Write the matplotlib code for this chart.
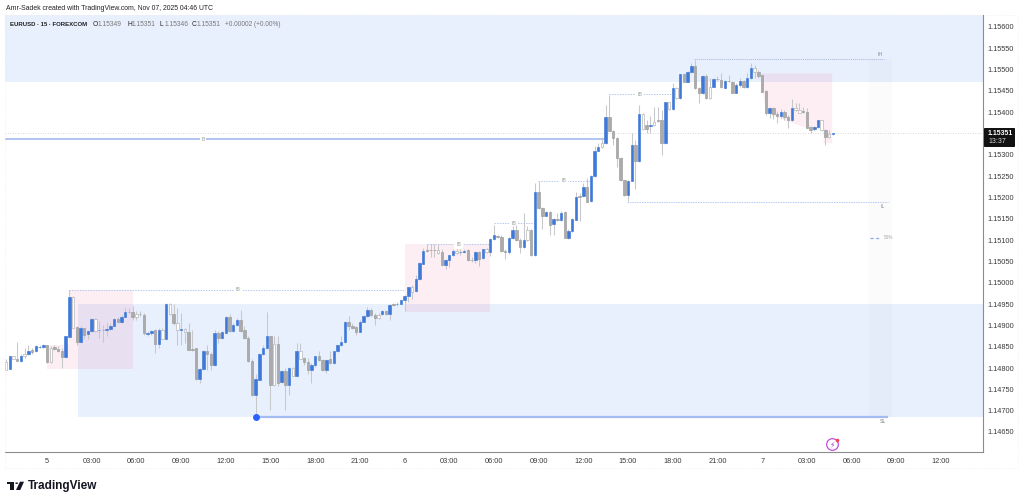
import numpy as np
import matplotlib
matplotlib.use("Agg")
import matplotlib.pyplot as plt
from matplotlib.patches import Rectangle, Polygon, Circle, FancyBboxPatch

W, H = 1024, 503

# EURUSD 15m bars, prices in 1e-5 units, bar 0 = Nov 5 00:00
first_bar = -11
candle_kind = (
    "wbwgbwbgbbb"
    "gwgggbbwgb" "gbbwbgbbbg" "bbggwggbbg" "bwbwgwbwgg" "gbbggbgbbg"
    "bbggggbbbb" "gwgbgbwbwg" "gbbggbgbbb" "bgggbbbggw" "bgbgbbbbwb"
    "bbgggwgbbb" "wbbggbgbwb" "bgggbbggbw" "gbggbgbgbg" "bbbgbgbbbw"
    "bgggggbbgb" "wgbwggbwbw" "bgbbggbgwb" "ggbggbbgbb" "wgggbggbgg"
    "bwwgggbbwg" "wb"
)
body_top = [
    114814,114828,114828,114822,114829,114834,114841,114842,114851,114850,114853,
    114853,114847,114849,114845,114840,114874,114966,114966,114896,114893,
    114893,114887,114914,114915,114890,114890,114891,114899,114916,114916,
    114920,114932,114932,114931,114927,114927,114925,114882,114887,114888,
    114890,114890,114950,114950,114927,114906,114892,114891,114885,114845,
    114846,114798,114840,114841,114834,114882,114882,114884,114920,114920,
    114902,114912,114912,114888,114871,114817,114775,114834,114846,114876,
    114876,114857,114857,114792,114793,114800,114800,114839,114839,114823,
    114814,114806,114827,114827,114819,114819,114820,114839,114853,114860,
    114909,114909,114899,114896,114909,114921,114935,114936,114924,114925,
    114934,114934,114948,114949,114950,114959,114968,114990,114990,115008,
    115046,115075,115076,115077,115077,115077,115072,115054,115064,115075,
    115075,115072,115075,115076,115054,115071,115071,115078,115078,115103,
    115111,115109,115107,115074,115105,115123,115123,115100,115100,115124,
    115124,115212,115212,115175,115165,115165,115150,115150,115164,115165,
    115122,115150,115202,115203,115225,115225,115250,115310,115318,115328,
    115388,115388,115356,115339,115293,115240,115239,115324,115324,115395,
    115395,115369,115370,115378,115381,115381,115423,115423,115456,115456,
    115489,115489,115495,115509,115509,115457,115486,115486,115460,115477,
    115478,115475,115474,115474,115471,115464,115473,115473,115480,115503,
    115503,115495,115487,115449,115409,115409,115396,115400,115400,115388,
    115411,115411,115406,115402,115401,115365,115365,115381,115381,115359,
    115349,115351,
]
body_bottom = [
    114796,114798,114821,114816,114816,114828,114832,114837,114839,114849,114849,
    114814,114814,114844,114840,114825,114825,114873,114895,114860,114860,
    114878,114879,114886,114886,114888,114889,114889,114891,114898,114907,
    114907,114920,114931,114919,114920,114926,114881,114880,114882,114857,
    114857,114868,114868,114926,114906,114888,114890,114885,114843,114843,
    114774,114774,114798,114834,114806,114806,114870,114870,114882,114886,
    114886,114902,114886,114870,114816,114736,114736,114773,114832,114846,
    114759,114759,114765,114768,114759,114759,114782,114782,114822,114814,
    114795,114795,114806,114818,114796,114796,114812,114812,114839,114853,
    114860,114898,114895,114885,114885,114909,114921,114924,114917,114917,
    114926,114927,114927,114948,114949,114951,114959,114968,114979,114980,
    115008,115045,115075,115076,115076,115070,115041,115041,115054,115064,
    115069,115071,115072,115053,115053,115053,115056,115058,115072,115073,
    115103,115108,115074,115072,115072,115104,115100,115083,115083,115100,
    115064,115064,115175,115157,115157,115136,115137,115148,115146,115105,
    115105,115122,115148,115201,115203,115190,115191,115250,115309,115318,
    115328,115356,115339,115293,115240,115205,115205,115239,115285,115285,
    115360,115360,115368,115370,115380,115327,115327,115407,115407,115433,
    115433,115471,115471,115495,115456,115444,115444,115433,115433,115460,
    115477,115458,115457,115473,115446,115445,115464,115459,115459,115480,
    115495,115486,115448,115399,115399,115396,115390,115390,115388,115381,
    115381,115406,115399,115400,115364,115359,115360,115365,115359,115343,
    115343,115349,
]
wick_high = [
    114820,114829,114829,114860,114834,114847,114855,114847,114855,114853,114857,
    114853,114851,114853,114851,114847,114876,114984,114968,114898,114898,
    114895,114890,114917,114917,114910,114902,114906,114906,114917,114920,
    114925,114941,114941,114945,114933,114933,114929,114886,114890,114892,
    114894,114894,114952,114952,114949,114941,114929,114894,114906,114890,
    114847,114800,114842,114855,114837,114890,114886,114886,114923,114927,
    114906,114917,114935,114898,114874,114820,114785,114835,114855,114931,
    114876,114874,114874,114796,114800,114803,114803,114859,114859,114826,
    114824,114812,114829,114839,114821,114821,114839,114841,114855,114876,
    114910,114921,114906,114899,114912,114925,114943,114941,114929,114929,
    114937,114937,114949,114952,114954,114962,114972,114991,114995,115019,
    115048,115082,115090,115090,115090,115090,115078,115056,115066,115078,
    115079,115078,115080,115078,115061,115074,115075,115079,115082,115105,
    115136,115113,115111,115078,115107,115132,115136,115105,115164,115132,
    115125,115234,115238,115178,115168,115168,115152,115164,115168,115168,
    115125,115152,115212,115210,115234,115246,115253,115320,115328,115342,
    115417,115441,115359,115342,115295,115242,115241,115351,115335,115417,
    115398,115382,115390,115413,115413,115406,115425,115425,115468,115460,
    115490,115491,115497,115516,115523,115460,115488,115490,115480,115480,
    115484,115491,115476,115487,115473,115468,115480,115476,115491,115515,
    115511,115499,115490,115451,115412,115412,115402,115407,115406,115394,
    115431,115421,115421,115413,115410,115368,115368,115382,115382,115361,
    115359,115351,
]
wick_low = [
    114795,114798,114820,114816,114814,114824,114831,114834,114837,114846,114847,
    114812,114812,114842,114837,114800,114823,114873,114894,114853,114859,
    114868,114868,114885,114885,114870,114860,114874,114890,114898,114906,
    114906,114919,114929,114913,114912,114921,114878,114874,114878,114835,
    114847,114867,114867,114924,114902,114853,114853,114859,114842,114839,
    114773,114764,114796,114796,114796,114804,114859,114868,114882,114884,
    114884,114899,114884,114868,114814,114734,114691,114771,114831,114845,
    114701,114757,114757,114765,114701,114736,114781,114781,114820,114808,
    114785,114765,114803,114816,114792,114789,114810,114810,114837,114851,
    114859,114890,114892,114878,114884,114907,114920,114921,114902,114915,
    114924,114925,114913,114946,114946,114949,114933,114956,114962,114979,
    115006,115043,115072,115061,115061,115068,115039,115033,115036,115062,
    115067,115066,115070,115051,115049,115047,115040,115056,115070,115062,
    115101,115105,115072,115056,115068,115103,115097,115070,115082,115099,
    115062,115062,115173,115126,115156,115113,115113,115144,115144,115104,
    115103,115120,115146,115144,115201,115189,115190,115248,115308,115316,
    115326,115355,115324,115271,115238,115203,115191,115238,115220,115283,
    115359,115351,115351,115368,115378,115300,115325,115406,115406,115431,
    115431,115470,115470,115493,115455,115421,115442,115431,115431,115459,
    115474,115456,115456,115472,115445,115444,115458,115456,115457,115478,
    115480,115480,115447,115394,115386,115384,115374,115386,115382,115363,
    115379,115402,115398,115398,115363,115351,115357,115363,115357,115324,
    115339,115346,
]

# axes ticks
time_ticks = [0, 12, 24, 36, 48, 60, 72, 84, 96, 108, 120, 132, 144, 156, 168,
              180, 192, 204, 216, 228, 240]
time_labels = ["5", "03:00", "06:00", "09:00", "12:00", "15:00", "18:00", "21:00",
               "6", "03:00", "06:00", "09:00", "12:00", "15:00", "18:00", "21:00",
               "7", "03:00", "06:00", "09:00", "12:00"]
price_ticks = list(range(114650, 115601, 50))

# zones: bar start, bar end, low price, high price
blue_zones = [(-11.3, 251.3, 115471, 115628), (8.3, 251.3, 114686, 114950)]
pink_zones = [(6.0, 23.0, 114798, 114984), (0.0, 6.0, 114798, 114855),
              (96.1, 119.0, 114932, 115090)]
pink_last_bars = [192.2, 193.0, 199.0, 204.0, 208.5, 208.5, 210.8]
pink_last_low = [115448, 115398, 115378, 115363, 115363, 115327, 115327]
pink_last_high = 115491

# levels: label, bar start, bar end, price, label bar
dashed_levels = [("IB", 6.0, 96.0, 114984, 51.3), ("IB", 102.0, 119.0, 115090, 110.5),
                 ("IB", 120.0, 130.5, 115140, 125.3), ("IB", 131.8, 146.6, 115239, 138.8),
                 ("IB", 150.9, 167.8, 115442, 159.2)]
last_close = 115351
B_level = (-11.3, 149.5, 115337, 41.9)
IH_level = (173.7, 224.7, 115524, 223.6)
IL_level = (155.7, 225.8, 115190, 224.4)
SL_level = (56.0, 225.8, 114686, 224.4)
mid_level = (221.0, 223.7, 115105, 225.8)


def fx(x):
    return x / W


def fy(y):
    return 1 - y / H


def px_text(x, y, s, **kw):
    kw.setdefault("family", ["Liberation Sans", "DejaVu Sans"])
    kw.setdefault("va", "center")
    fig.text(fx(x), fy(y), s, **kw)


fig = plt.figure(figsize=(W / 100, H / 100), dpi=100, facecolor="white")

# outer frame of the widget
fig.add_artist(Rectangle((fx(5), fy(467.5)), fx(1018 - 5), (467.5 - 15) / H,
                         transform=fig.transFigure, fc="none", ec="#eeeeee", lw=0.6, ls=":"))

ax = fig.add_axes([fx(5), fy(452), fx(978), 437 / H])
ax.set_xlim(-11.28, 251.3)
ax.set_ylim(114603 / 1e5, 115628 / 1e5)

for x0, x1, lo, hi in blue_zones:
    ax.add_patch(Rectangle((x0, lo / 1e5), x1 - x0, (hi - lo) / 1e5,
                           fc="#e8effd", ec="none", zorder=1))
for x0, x1, lo, hi in pink_zones:
    ax.add_patch(Rectangle((x0, lo / 1e5), x1 - x0, (hi - lo) / 1e5,
                           fc="#e8608a", alpha=0.1, ec="none", zorder=1.2))
ax.fill_between(pink_last_bars, np.array(pink_last_low) / 1e5, pink_last_high / 1e5,
                fc="#e8608a", alpha=0.1, ec="none", zorder=1.2)

# faint projection band on the right
ax.add_patch(Rectangle((220.6, SL_level[2] / 1e5), 6.2, (IH_level[2] - SL_level[2]) / 1e5,
                       fc="#808080", alpha=0.03, ec="none", zorder=1.3))

# levels
ax.axhline(last_close / 1e5, color="#c8cad0", lw=0.6, ls=(0, (1, 2)), zorder=1.5)
line_color = "#b4c8f2"
label_size = 3.8
for label, x0, x1, price, lx in dashed_levels:
    ax.plot([x0, x1], [price / 1e5] * 2, color=line_color, lw=0.7, ls=(0, (1.5, 1.2)), zorder=1.6)
    ax.text(lx, price / 1e5, label, fontsize=label_size, color="#9a9a9a", ha="center", va="center",
            family="Liberation Sans", bbox=dict(fc="white", ec="none", pad=1.5), zorder=1.7)

ax.plot(B_level[:2], [B_level[2] / 1e5] * 2, color="#9ab4ec", lw=1.1, zorder=1.6)
ax.text(B_level[3], B_level[2] / 1e5, "B", fontsize=label_size, color="#9a9a9a", ha="center", va="center",
        family="Liberation Sans", bbox=dict(fc="white", ec="none", pad=1), zorder=1.7)
ax.plot(IH_level[:2], [IH_level[2] / 1e5] * 2, color="#a8b8dc", lw=0.6, ls=(0, (1.5, 1)), zorder=1.6)
ax.text(IH_level[3], (IH_level[2] + 12) / 1e5, "IH", fontsize=label_size, color="#8a8a8a", ha="center", va="center",
        family="Liberation Sans")
ax.plot(IL_level[:2], [IL_level[2] / 1e5] * 2, color=line_color, lw=0.7, ls=(0, (1.5, 1)), zorder=1.6)
ax.text(IL_level[3], (IL_level[2] - 11) / 1e5, "IL", fontsize=label_size, color="#8a8a8a", ha="center", va="center",
        family="Liberation Sans")
ax.plot(SL_level[:2], [SL_level[2] / 1e5] * 2, color="#a4bcf2", lw=1.6, solid_capstyle="butt", zorder=1.6)
ax.text(SL_level[3], (SL_level[2] - 12) / 1e5, "SL", fontsize=label_size, color="#8a8a8a", ha="center", va="center",
        family="Liberation Sans")
ax.plot(mid_level[:2], [mid_level[2] / 1e5] * 2, color="#8fabe8", lw=0.9, ls=(0, (2.5, 2)), zorder=1.6)
ax.text(mid_level[3], mid_level[2] / 1e5, "50%", fontsize=3.4, color="#a8a8a8", ha="center", va="center",
        family="Liberation Sans")
ax.plot([SL_level[0]], [SL_level[2] / 1e5], "o", color="#2962ff", ms=5, mec="none", zorder=5)

# candles
bars = first_bar + np.arange(len(body_top))
top = np.array(body_top) / 1e5
bot = np.array(body_bottom) / 1e5
kinds = np.array(list(candle_kind))
ax.vlines(bars, np.array(wick_low) / 1e5, np.array(wick_high) / 1e5,
          color="#c6c8cc", lw=0.75, zorder=2)
styles = {"b": ("#3e78d8", "#3e78d8"), "g": ("#ababab", "#9a9a9a"), "w": ("#ffffff", "#b0b0b0")}
for kind, (face, edge) in styles.items():
    m = kinds == kind
    ax.bar(bars[m], top[m] - bot[m], bottom=bot[m], width=0.66, color=face,
           edgecolor=edge, linewidth=0.45, zorder=3)

ax.set_xticks(time_ticks, time_labels)
ax.set_yticks([p / 1e5 for p in price_ticks], [f"{p / 1e5:.5f}" for p in price_ticks])
ax.yaxis.tick_right()
ax.tick_params(axis="both", length=0, labelsize=5.3, labelcolor="#3a3a3a")
ax.tick_params(axis="y", pad=3.4)
ax.tick_params(axis="x", pad=4.2)
for lab in ax.get_xticklabels() + ax.get_yticklabels():
    lab.set_family("Liberation Sans")
for s in ("top", "left"):
    ax.spines[s].set_visible(False)
for s in ("right", "bottom"):
    ax.spines[s].set_color("#8c8c8c")
    ax.spines[s].set_linewidth(0.8)
ax.patch.set_alpha(0)

# header
px_text(6, 8.3, "Amr-Sadek created with TradingView.com, Nov 07, 2025 04:46 UTC",
        fontsize=4.95, color="#222222")
px_text(10, 24.5, "EURUSD · 15 · FOREXCOM", fontsize=4.3, color="#222222", fontweight="bold")
for x, letter, value in [(93, "O", "1.15349"), (127, "H", "1.15351"),
                         (160, "L", "1.15346"), (192, "C", "1.15351")]:
    px_text(x, 24.5, letter, fontsize=4.8, color="#222222")
    px_text(x + 4.8, 24.5, value, fontsize=4.8, color="#777777")
px_text(225, 24.5, "+0.00002 (+0.00%)", fontsize=4.7, color="#777777")

# last price tag
fig.add_artist(FancyBboxPatch((fx(984), fy(147)), fx(31), 19 / H, transform=fig.transFigure,
                              boxstyle="round,pad=0,rounding_size=0.001", fc="#111111", ec="none"))
px_text(988, 133.5, "1.15351", fontsize=5.0, color="white", fontweight="bold")
px_text(988, 141.5, "13:37", fontsize=5.0, color="#d8d8d8")

# lightning icon
ax.plot([210.7], [114622 / 1e5], "o", ms=8.4, mfc="white", mec="#c050d8", mew=0.9, zorder=5)
ax.text(210.7, 114621 / 1e5, "\u26a1", fontsize=5.5, color="#a040c0", ha="center", va="center",
        family="DejaVu Sans", zorder=6)
ax.plot([212.0], [114631 / 1e5], "o", ms=2.6, color="#f0405a", mec="none", zorder=7)

# logo
fig.add_artist(Polygon([(fx(6.7), fy(481.7)), (fx(14), fy(481.7)), (fx(14), fy(490)), (fx(10), fy(490)),
                        (fx(10), fy(484.3)), (fx(6.7), fy(484.3))],
                       transform=fig.transFigure, fc="#131722", ec="none"))
fig.add_artist(Polygon([(fx(20), fy(481.7)), (fx(24), fy(481.7)), (fx(20.3), fy(490)), (fx(16), fy(490))],
                       transform=fig.transFigure, fc="#131722", ec="none"))
fig.add_artist(Circle((fx(16.7), fy(483.2)), 1.5 / W, transform=fig.transFigure, fc="#131722", ec="none"))
px_text(28, 486, "TradingView", fontsize=8.5, color="#131722", fontweight="bold")

fig.savefig("out.png", dpi=100)
plt.close(fig)
